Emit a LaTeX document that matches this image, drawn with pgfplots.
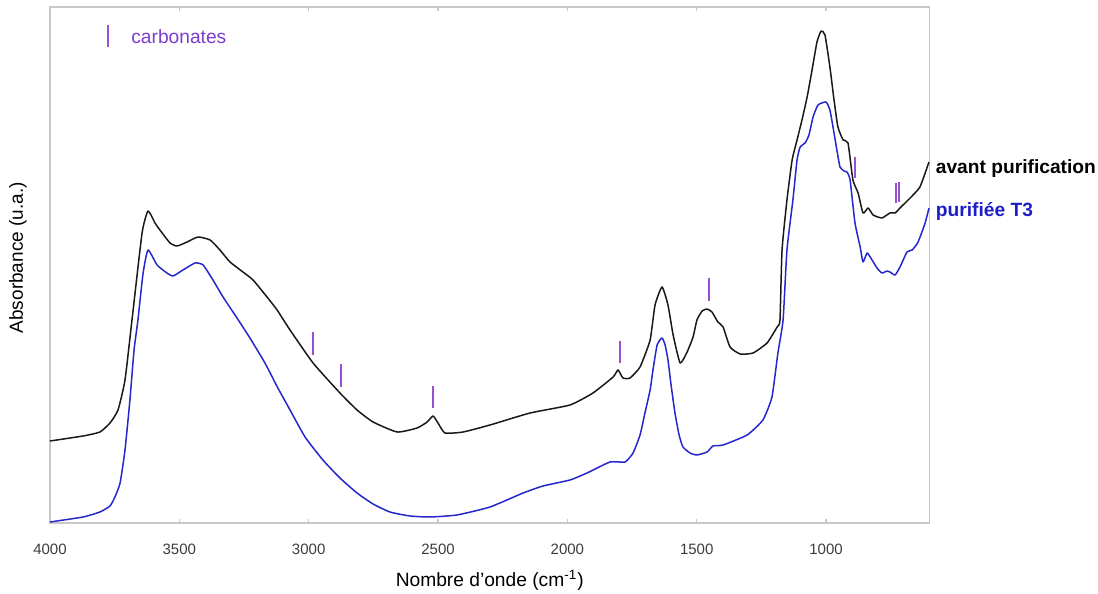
\documentclass[border=0pt]{standalone}
\usepackage{fontspec}
\setmainfont{Liberation Sans}
\usepackage{pgfplots}
\pgfplotsset{compat=1.18}
\usepackage{pgfplotstable}
\definecolor{framegray}{RGB}{200,200,200}
\definecolor{ticktext}{RGB}{60,60,60}
\definecolor{specblue}{RGB}{38,38,205}
\definecolor{carbviolet}{RGB}{150,80,210}
\definecolor{carbtext}{RGB}{125,60,205}
\definecolor{labelblue}{RGB}{30,30,200}

\pgfplotstableread{
x y
4000 0.82
3872 0.87
3807 0.91
3768 1.00
3737 1.13
3710 1.43
3683 2.03
3644 2.90
3621 3.12
3594 3.00
3575 2.93
3536 2.80
3509 2.77
3470 2.81
3428 2.86
3381 2.83
3343 2.73
3304 2.61
3254 2.51
3215 2.43
3161 2.26
3122 2.13
3072 1.93
2983 1.60
2879 1.30
2813 1.13
2751 1.01
2658 0.91
2581 0.95
2542 1.01
2519 1.07
2500 1.00
2473 0.90
2403 0.91
2299 0.98
2144 1.10
1990 1.18
1901 1.30
1823 1.46
1804 1.53
1785 1.45
1758 1.45
1719 1.56
1680 1.83
1661 2.18
1634 2.36
1611 2.18
1591 1.88
1564 1.60
1537 1.71
1514 1.86
1499 2.03
1479 2.12
1460 2.14
1441 2.11
1418 2.01
1398 1.96
1371 1.76
1332 1.69
1282 1.70
1228 1.80
1189 1.96
1178 2.03
1170 2.73
1151 3.23
1131 3.63
1112 3.83
1093 4.03
1073 4.26
1054 4.53
1035 4.81
1019 4.92
1004 4.88
985 4.56
969 4.23
954 3.96
934 3.83
915 3.80
896 3.43
876 3.30
857 3.10
837 3.15
818 3.08
784 3.05
753 3.10
733 3.10
714 3.15
675 3.25
637 3.36
602 3.61
}\avant

\pgfplotstableread{
x y
4000 0.01
3872 0.06
3807 0.11
3768 0.17
3749 0.26
3729 0.40
3710 0.73
3691 1.23
3675 1.73
3660 2.03
3640 2.50
3621 2.73
3586 2.58
3548 2.50
3524 2.47
3486 2.53
3439 2.60
3408 2.58
3370 2.43
3331 2.26
3277 2.05
3227 1.85
3169 1.60
3119 1.35
3072 1.13
3014 0.86
2945 0.63
2879 0.45
2813 0.30
2751 0.19
2686 0.11
2608 0.07
2531 0.06
2427 0.08
2299 0.16
2171 0.30
2094 0.37
1990 0.43
1924 0.50
1835 0.61
1777 0.61
1746 0.70
1719 0.88
1700 1.10
1680 1.33
1669 1.53
1653 1.78
1634 1.85
1622 1.78
1611 1.63
1599 1.38
1584 1.10
1568 0.88
1553 0.76
1526 0.70
1499 0.68
1460 0.71
1437 0.77
1398 0.78
1305 0.88
1244 1.03
1209 1.26
1186 1.70
1166 2.03
1151 2.73
1128 3.23
1112 3.63
1100 3.76
1081 3.80
1066 3.88
1050 4.06
1031 4.18
1000 4.21
985 4.13
973 3.96
958 3.73
946 3.56
930 3.52
919 3.51
907 3.43
888 3.00
868 2.76
857 2.61
841 2.70
822 2.63
803 2.55
784 2.50
764 2.52
753 2.51
733 2.48
714 2.56
687 2.71
667 2.73
644 2.81
617 3.00
602 3.15
}\purifiee

\begin{document}
\begin{tikzpicture}
\begin{axis}[
  at={(0pt,0pt)}, anchor=south west,
  scale only axis,
  width=439.75pt, height=258pt,
  x dir=reverse,
  xmin=600, xmax=4000,
  ymin=0, ymax=5.16,
  xtick={1000,1500,2000,2500,3000,3500,4000},
  ytick=\empty,
  /pgf/number format/.cd, 1000 sep={}, assume math mode=true, /pgfplots/.cd,
  tick align=inside,
  major tick length=2.2pt,
  tick style={framegray, line width=0.6pt},
  axis line style={framegray, line width=0.7pt},
  xticklabel style={font=\fontsize{7.5}{9}\selectfont, text=ticktext, yshift=-7pt},
  xlabel={Nombre d'onde (cm\textsuperscript{-1})},
  xlabel style={font=\fontsize{9.6}{11}\selectfont, at={(axis description cs:0.5,0)}, anchor=center, yshift=-28.5pt},
  ylabel={Absorbance (u.a.)},
  ylabel style={font=\fontsize{9.5}{11}\selectfont, at={(axis description cs:-0.0364,0.514)}, anchor=center},
  clip=false,
]
\addplot[black!90, line width=0.75pt, line join=round, smooth, tension=0.3] table[x=x,y=y] {\avant};
\addplot[specblue, line width=0.75pt, line join=round, smooth, tension=0.3] table[x=x,y=y] {\purifiee};

% carbonate markers
\addplot[carbviolet, line width=1pt] coordinates {(2983,1.68) (2983,1.91)};
\addplot[carbviolet, line width=1pt] coordinates {(2875,1.36) (2875,1.59)};
\addplot[carbviolet, line width=1pt] coordinates {(2519,1.15) (2519,1.37)};
\addplot[carbviolet, line width=1pt] coordinates {(1796,1.60) (1796,1.82)};
\addplot[carbviolet, line width=1pt] coordinates {(1452,2.22) (1452,2.45)};
\addplot[carbviolet, line width=1pt] coordinates {(888,3.45) (888,3.66)};
\addplot[carbviolet, line width=1pt] coordinates {(730,3.20) (730,3.40)};
\addplot[carbviolet, line width=1pt] coordinates {(716,3.21) (716,3.41)};
% legend marker
\addplot[carbviolet, line width=1pt] coordinates {(3776,4.76) (3776,4.98)};
\node[anchor=west, inner sep=0pt, text=carbtext, font=\fontsize{9.6}{11}\selectfont] at (axis cs:3687,4.86) {carbonates};

\node[anchor=west, inner sep=0pt, font=\fontsize{9.6}{11}\selectfont\bfseries] at (axis description cs:1,0.686) [xshift=3pt] {avant purification};
\node[anchor=west, inner sep=0pt, text=labelblue, font=\fontsize{9.6}{11}\selectfont\bfseries] at (axis description cs:1,0.603) [xshift=3pt] {purifiée T3};
\end{axis}
\pgfresetboundingbox
\path (-25pt,-35.5pt) rectangle (524pt,261.5pt);
\end{tikzpicture}
\end{document}
